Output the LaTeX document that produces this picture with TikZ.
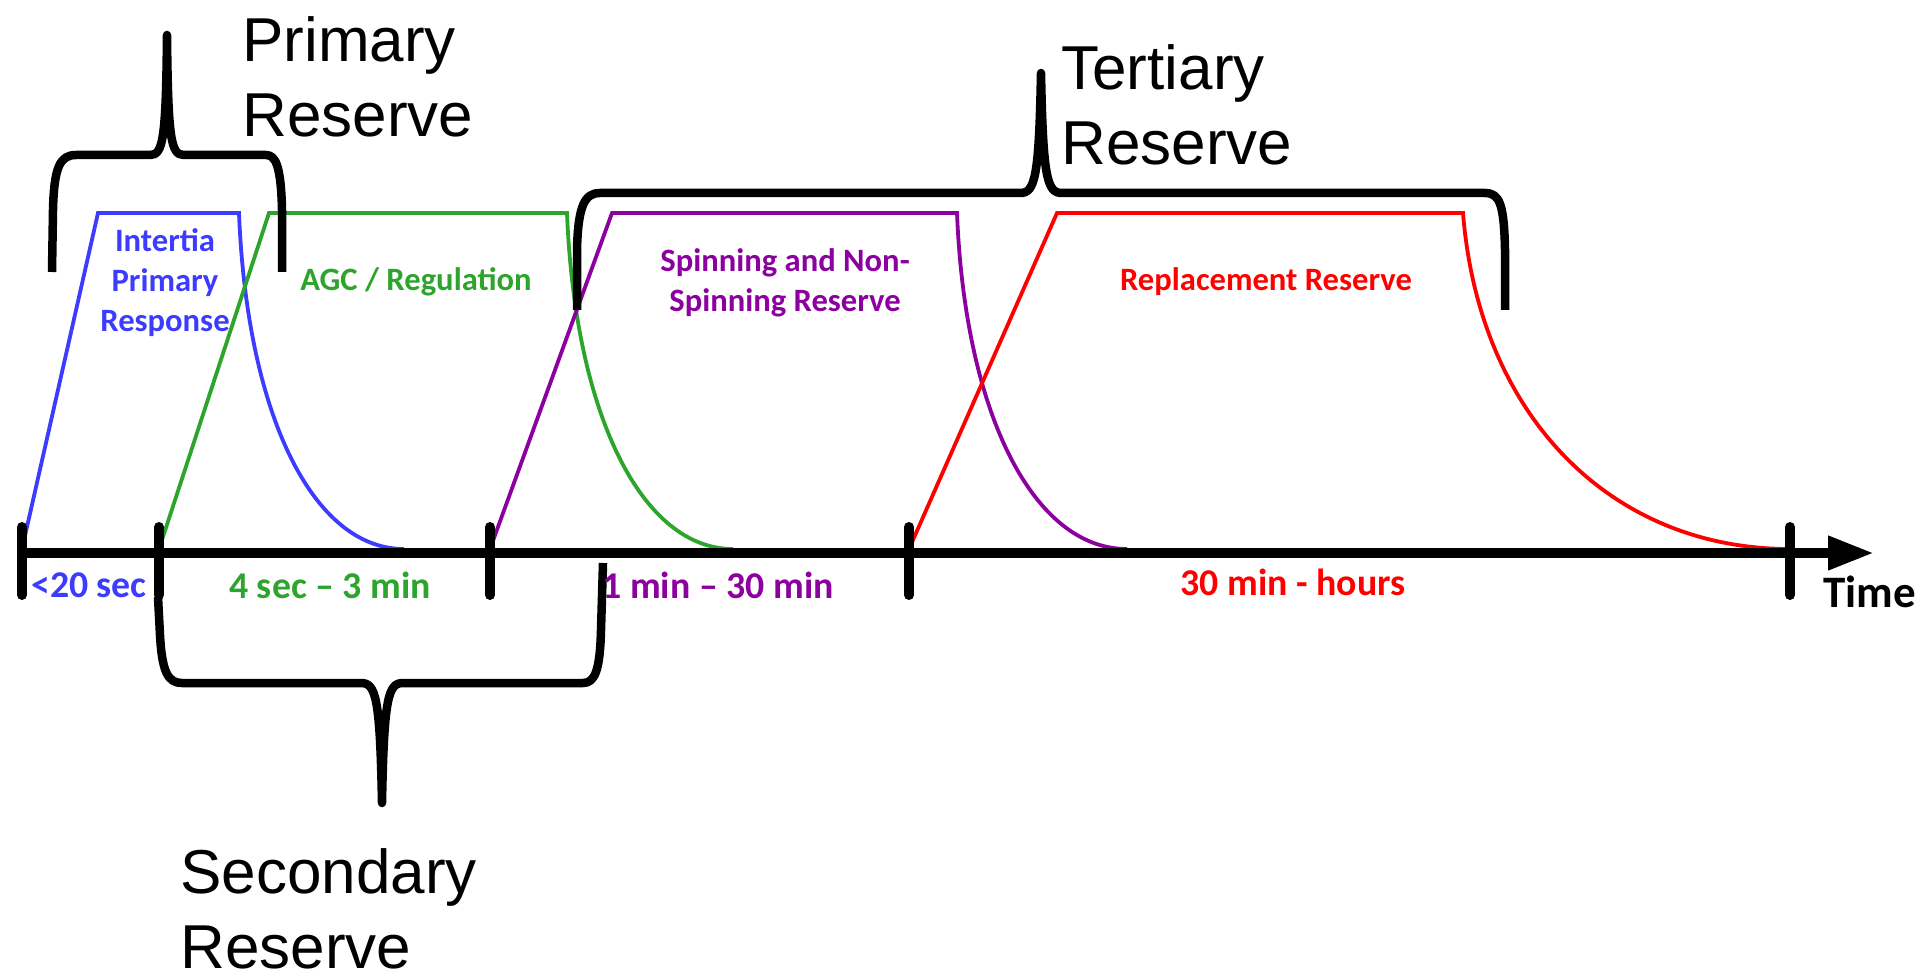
\documentclass[tikz,border=0pt]{standalone}
\usepackage{fontspec}
\setmainfont{Liberation Sans}
\newfontfamily\calib{Carlito}
\usetikzlibrary{arrows.meta}
\definecolor{cblue}{RGB}{60,60,255}
\definecolor{cgreen}{RGB}{45,165,45}
\definecolor{cpurple}{RGB}{140,0,160}
\definecolor{cred}{RGB}{255,0,0}
\begin{document}
\begin{tikzpicture}[x=0.5pt,y=-0.5pt,
  resp/.style={line width=1.9pt, line join=miter},
  axisline/.style={line width=5pt, -{Triangle[length=23pt,width=16pt]}},
  tickmark/.style={line width=5pt, line cap=round},
  bracepath/.style={line width=4.25pt, line join=round},
  biglabel/.style={font=\fontsize{31}{37.5}\selectfont, align=left, inner sep=0pt, anchor=base west},
  smalllabel/.style={font=\calib\bfseries\fontsize{16.3}{20}\selectfont, align=center, inner sep=0pt},
  axislabel/.style={font=\calib\bfseries\fontsize{18.9}{22}\selectfont, inner sep=0pt},
]
\useasboundingbox (0,0) rectangle (1920,978);

% reserve curves
\draw[resp, cblue] (22,549) -- (98,213) -- (239,213) .. controls (247,415) and (313,549) .. (404,549);
\draw[resp, cgreen] (159,549) -- (269,213) -- (567,213) .. controls (575,415) and (642,549) .. (733,549);
\draw[resp, cpurple] (490,549) -- (612,213) -- (957,213) .. controls (965,415) and (1034,549) .. (1127,549);
\draw[resp, cred] (909,549) -- (1057,213) -- (1463,213) .. controls (1479,415) and (1610,549) .. (1790,549);

% time axis
\coordinate (axstart) at (22,553);
\coordinate (axend) at (1874,553);
\draw[axisline] (axstart) -- (axend);
\foreach \x in {22,159,490,909,1790} {
  \draw[tickmark] (\x,527) -- (\x,595);
}

% braces
\draw[bracepath] (52,272) -- (53,210) .. controls (54,167) and (60,155) .. (76,155)
  -- (150,155) .. controls (163,155) and (166,140) .. (167,35)
  .. controls (168,140) and (171,155) .. (184,155)
  -- (266,155) .. controls (276,155) and (281,167) .. (282,210) -- (282,272);

\draw[bracepath] (577,310) -- (577,250) .. controls (578,205) and (585,193) .. (600,193)
  -- (1020,193) .. controls (1035,193) and (1039,178) .. (1041,73)
  .. controls (1043,178) and (1047,193) .. (1062,193)
  -- (1485,193) .. controls (1500,193) and (1504,205) .. (1505,250) -- (1505,310);

\draw[bracepath] (158,597) -- (160,635) .. controls (162,672) and (168,683) .. (182,683)
  -- (361,683) .. controls (376,683) and (380,698) .. (382,803)
  .. controls (384,698) and (388,683) .. (403,683)
  -- (583,683) .. controls (595,683) and (600,670) .. (601,630) -- (603,563);

% labels (base anchor = baseline of the last line)
\node[biglabel] (prim) at (242,137) {Primary\\Reserve};
\node[biglabel] (tert) at (1061,165) {Tertiary\\Reserve};
\node[biglabel] (sec) at (180,968) {Secondary\\Reserve};

\node[smalllabel, text=cblue] (inert) at (165,283) {Intertia\\Primary\\Response};
\node[smalllabel, text=cgreen] (agc) at (416,282) {AGC / Regulation};
\node[smalllabel, text=cpurple] (spin) at (785,283) {Spinning and Non-\\Spinning Reserve};
\node[smalllabel, text=cred] (repl) at (1266,282) {Replacement Reserve};

\node[axislabel, text=cblue] (t1) at (89,585) {<20 sec};
\node[axislabel, text=cgreen] (t2) at (330,585) {4 sec – 3 min};
\node[axislabel, text=cpurple] (t3) at (718,585) {1 min – 30 min};
\node[axislabel, text=cred] (t4) at (1293,582) {30 min - hours};
\node[font=\calib\bfseries\fontsize{22.5}{27}\selectfont, anchor=base west, inner sep=0pt] (time) at (1823,607) {Time};
\end{tikzpicture}
\end{document}
